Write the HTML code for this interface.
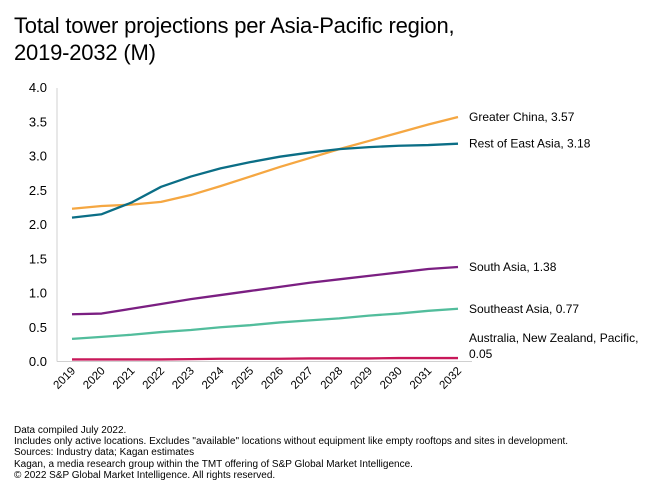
<!DOCTYPE html>
<html><head><meta charset="utf-8"><style>
body{margin:0;width:660px;height:500px;background:#fff;font-family:"Liberation Sans",sans-serif;overflow:hidden}
#title{position:absolute;left:14px;top:12px;font-size:22px;line-height:27px;color:#000;letter-spacing:-0.2px}
#foot{position:absolute;left:14px;top:425px;font-size:10px;line-height:11.2px;color:#000}
svg{position:absolute;left:0;top:0}
</style></head><body>
<div id="title">Total tower projections per Asia-Pacific region,<br>2019-2032 (M)</div>
<svg id="chart" width="660" height="500"></svg>
<div id="foot">Data compiled July 2022.<br>Includes only active locations. Excludes "available" locations without equipment like empty rooftops and sites in development.<br>Sources: Industry data; Kagan estimates<br>Kagan, a media research group within the TMT offering of S&amp;P Global Market Intelligence.<br>© 2022 S&amp;P Global Market Intelligence. All rights reserved.</div>
<script>
const years=[2019,2020,2021,2022,2023,2024,2025,2026,2027,2028,2029,2030,2031,2032];
const yTicks=[0,0.5,1,1.5,2,2.5,3,3.5,4];
const greaterChina=[2.23,2.27,2.29,2.33,2.43,2.56,2.70,2.84,2.97,3.10,3.22,3.34,3.46,3.57];
const restEastAsia=[2.10,2.15,2.32,2.55,2.70,2.82,2.91,2.99,3.05,3.10,3.13,3.15,3.16,3.18];
const southAsia=[0.69,0.70,0.77,0.84,0.91,0.97,1.03,1.09,1.15,1.20,1.25,1.30,1.35,1.38];
const southeastAsia=[0.33,0.36,0.39,0.43,0.46,0.50,0.53,0.57,0.60,0.63,0.67,0.70,0.74,0.77];
const anz=[0.03,0.03,0.03,0.03,0.035,0.04,0.04,0.04,0.045,0.045,0.045,0.05,0.05,0.05];
const seriesNames=["Greater China","Rest of East Asia","South Asia","Southeast Asia","Australia, New Zealand, Pacific"];
const seriesData=[greaterChina,restEastAsia,southAsia,southeastAsia,anz];
const colors=["#f5a742","#0b6e86","#7b1f82","#52bd9c","#c8185a"];
const NS="http://www.w3.org/2000/svg";
const svg=document.getElementById('chart');
const x0=72,x1=458,y0=361.5,yTop=87.5;
const xs=i=>x0+i*(x1-x0)/(years.length-1);
const ys=v=>y0-v*(y0-yTop)/4;
function mk(t,a){const e=document.createElementNS(NS,t);for(const k in a)e.setAttribute(k,a[k]);svg.appendChild(e);return e;}
let ax=mk('line',{x1:57,y1:88,x2:57,y2:y0,stroke:'#d0d0d0','stroke-width':1});

let bx=mk('line',{x1:57,y1:y0,x2:472,y2:y0,stroke:'#d0d0d0','stroke-width':1});

yTicks.forEach(v=>{const t=mk('text',{x:47,y:ys(v)+4.5,'text-anchor':'end','font-size':13,fill:'#000'});t.textContent=v.toFixed(1);
});
years.forEach((yr,i)=>{const x=xs(i)+4,y=y0+10;const t=mk('text',{x:x,y:y,'text-anchor':'end','font-size':11.5,fill:'#000',transform:`rotate(-45 ${x} ${y})`});t.textContent=yr;
});
seriesData.forEach((d,s)=>{const p=mk('polyline',{points:d.map((v,i)=>xs(i)+','+ys(v)).join(' '),fill:'none',stroke:colors[s],'stroke-width':2.3,'stroke-linejoin':'round'});
});
const lbl=[[469,ys(greaterChina[13])+4],[469,ys(restEastAsia[13])+4],[469,ys(southAsia[13])+4],[469,ys(southeastAsia[13])+4],[469,ys(anz[13])-16]];
seriesData.forEach((d,s)=>{const v=d[d.length-1].toFixed(2);
 if(s===4){const t=mk('text',{x:lbl[s][0],y:lbl[s][1],'font-size':12,fill:'#000'});t.textContent=seriesNames[s]+',';
  
  const t2=mk('text',{x:lbl[s][0],y:lbl[s][1]+16,'font-size':12,fill:'#000'});t2.textContent=v;
  }
 else{const t=mk('text',{x:lbl[s][0],y:lbl[s][1],'font-size':12,fill:'#000'});t.textContent=seriesNames[s]+', '+v;
  }
});
</script>
</body></html>
